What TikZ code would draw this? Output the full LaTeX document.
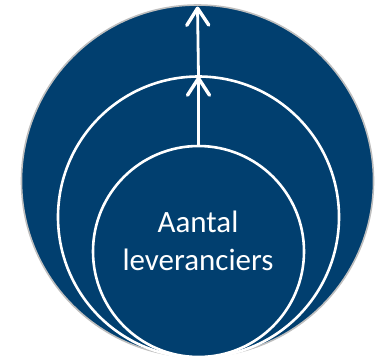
\documentclass[tikz,border=0pt]{standalone}
\usepackage{fontspec}
\setmainfont{Carlito}
\usetikzlibrary{arrows.meta}
\definecolor{navy}{RGB}{1,63,111}
\definecolor{rimgrey}{RGB}{190,190,190}
\tikzset{
  ring/.style={circle, draw=white, line width=2.6pt, inner sep=0pt, outer sep=0pt},
  uparrow/.style={draw=white, line width=2.8pt, -{Straight Barb[length=17pt,width=22pt,line width=3.4pt,round]}},
  lbl/.style={text=white, font=\fontsize{31}{38}\selectfont, align=center, inner sep=0pt}
}
\begin{document}
\begin{tikzpicture}[x=1pt,y=-1pt]
\useasboundingbox (0,0) rectangle (379,360);
\node[circle, fill=navy, draw=rimgrey, line width=1.6pt, inner sep=0pt, outer sep=0pt, minimum size=352pt] (outer) at (197.5,181) {};
\node[ring, minimum size=281pt] (middle) at (198.5,217) {};
\node[ring, minimum size=211pt] (inner) at (198.5,251.5) {};
\draw[uparrow] (inner.north) -- (middle.north);
\draw[uparrow] (middle.north) -- ([yshift=-1.5pt]outer.north);
\node[lbl, anchor=base] (label) at (198,270) {Aantal\\leveranciers};
\end{tikzpicture}
\end{document}
